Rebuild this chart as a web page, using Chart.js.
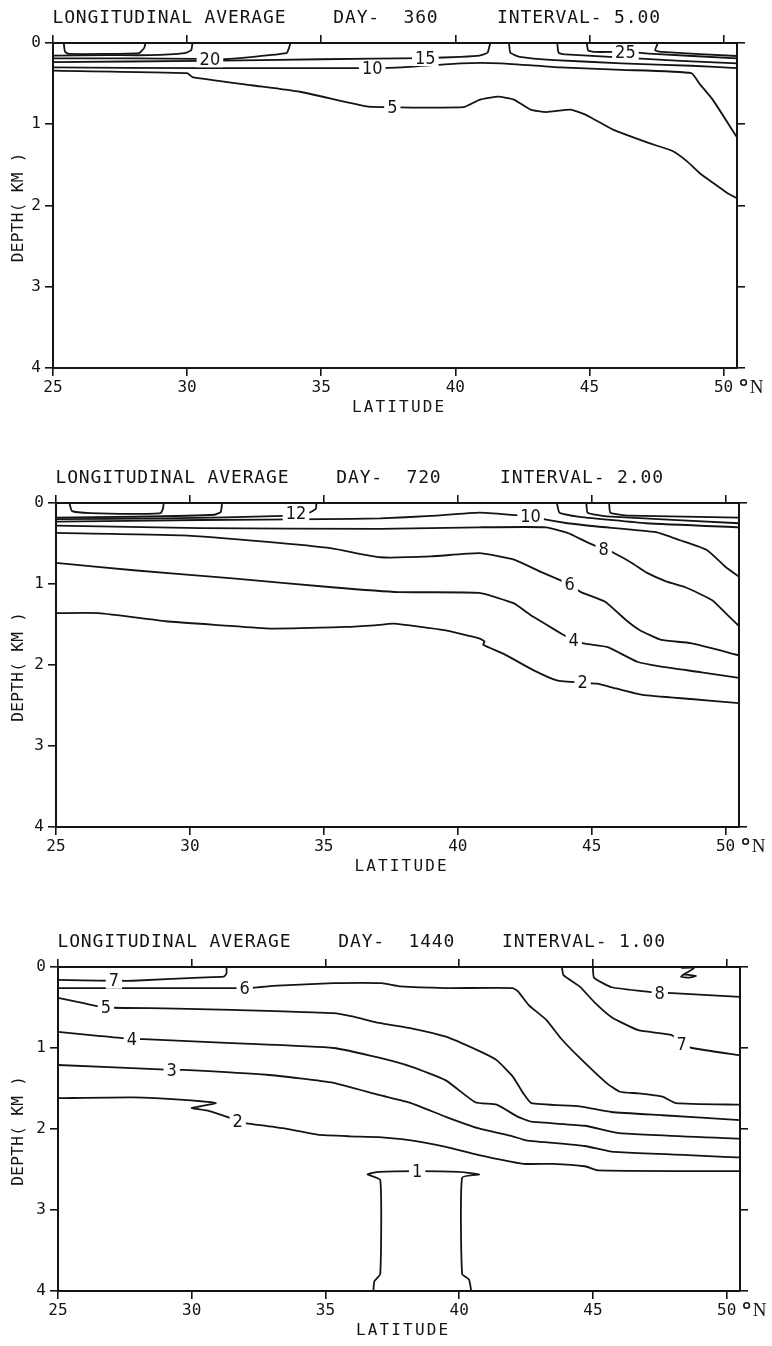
<!DOCTYPE html>
<html>
<head>
<meta charset="utf-8">
<script src="https://cdn.jsdelivr.net/npm/chart.js@4.4.1/dist/chart.umd.min.js"></script>
<style>
  body { margin: 0; background: #fff; width: 772px; height: 1346px; position: relative; overflow: hidden; }
  .panel { position: absolute; left: 0; width: 772px; }
  canvas { display: block; }
</style>
</head>
<body>
<div class="panel" style="top:0"><canvas id="day360" width="772" height="430"></canvas></div>
<div class="panel" style="top:460px"><canvas id="day720" width="772" height="430"></canvas></div>
<div class="panel" style="top:924px"><canvas id="day1440" width="772" height="422"></canvas></div>
<script>
// axes: latitude (deg N) across, depth (km) down
const latTicks = [25, 30, 35, 40, 45, 50];
const depthTicks = [0, 1, 2, 3, 4];
const latMin = 25, latMax = 50.5;

// ---- day 360, interval 5 : contour polylines as [lat, depth] ----
const d360_30L = [[25.4,0],[25.45,0.11],[25.6,0.135],[28.2,0.125],[28.4,0.06],[28.45,0]];
const d360_25L = [[25,0.155],[27,0.15],[28.6,0.15],[29.9,0.125],[30.15,0.09],[30.2,0]];
const d360_20L = [[25,0.19],[28,0.19],[30.3,0.195],[31.4,0.2],[33.7,0.125],[33.8,0.06],[33.85,0]];
const d360_15L = [[25,0.235],[30.5,0.22],[35,0.2],[38.9,0.185],[40.2,0.17],[40.9,0.155],[41.2,0.12],[41.3,0]];
const d360_10 = [[25,0.3],[30.5,0.31],[35,0.31],[36.9,0.31],[38,0.3],[40.2,0.25],[41.7,0.25],[43.9,0.3],[46.2,0.33],[48.8,0.37],[49.1,0.5],[49.6,0.7],[50.4,1.11],[50.5,1.16]];
const d360_5 = [[25,0.34],[30,0.37],[30.2,0.42],[32.4,0.52],[34.2,0.6],[36.7,0.78],[37.65,0.79],[40.3,0.79],[40.9,0.7],[41.6,0.66],[42.2,0.7],[42.8,0.82],[43.4,0.85],[44.3,0.82],[44.9,0.89],[45.9,1.07],[47.2,1.23],[48.1,1.33],[48.65,1.46],[49.1,1.6],[49.6,1.72],[50.15,1.85],[50.5,1.91]];
const d360_15R = [[42.0,0],[42.05,0.12],[42.4,0.17],[43.7,0.21],[46.2,0.25],[48.8,0.28],[50.5,0.31]];
const d360_20R = [[43.8,0],[43.85,0.12],[44.1,0.14],[48.4,0.22],[50.5,0.25]];
const d360_25R = [[44.9,0],[44.95,0.09],[45.2,0.11],[46.34,0.11],[47.2,0.13],[50.5,0.19]];
const d360_30R = [[47.55,0],[47.45,0.09],[47.7,0.11],[50.5,0.16]];
const d360_labels = [[30.85,0.2,'20'],[38.88,0.185,'15'],[36.9,0.31,'10'],[37.65,0.79,'5'],[46.34,0.11,'25']];

// ---- day 720, interval 2 ----
const d720_16L = [[25.5,0],[25.6,0.1],[26.3,0.125],[27.8,0.135],[28.9,0.125],[29.0,0.06],[29.02,0]];
const d720_14L = [[25,0.18],[27.9,0.17],[30.9,0.145],[31.15,0.11],[31.2,0]];
const d720_12L = [[25,0.2],[29.1,0.19],[33.5,0.16],[33.96,0.13],[34.45,0.12],[34.7,0.07],[34.72,0]];
const d720_10 = [[25,0.23],[30.4,0.21],[35,0.2],[37.1,0.19],[39.0,0.16],[40.8,0.12],[42.2,0.15],[42.72,0.16],[43.2,0.2],[44.1,0.25],[45.2,0.29],[47.4,0.36],[48.3,0.46],[49.3,0.58],[50.0,0.79],[50.5,0.91]];
const d720_12R = [[43.7,0],[43.8,0.12],[44.55,0.17],[47.05,0.25],[50.5,0.3]];
const d720_14R = [[44.8,0],[44.85,0.12],[45.55,0.165],[50.5,0.25]];
const d720_16R = [[45.65,0],[45.7,0.12],[46.4,0.155],[50.5,0.18]];
const d720_8 = [[25,0.28],[30.4,0.31],[37.1,0.32],[40.8,0.3],[43.3,0.3],[44.1,0.37],[44.8,0.48],[45.45,0.57],[45.85,0.62],[46.5,0.74],[47.05,0.86],[47.8,0.97],[48.5,1.04],[49.5,1.2],[50.0,1.36],[50.5,1.52]];
const d720_6 = [[25,0.37],[29.7,0.4],[32.9,0.48],[35.3,0.56],[37.1,0.67],[39.0,0.66],[40.8,0.62],[42.1,0.7],[43.1,0.85],[43.8,0.95],[44.18,1.01],[44.6,1.1],[45.5,1.22],[46.3,1.45],[46.8,1.57],[47.6,1.69],[48.7,1.73],[50.5,1.88]];
const d720_4 = [[25,0.74],[27.9,0.83],[31.6,0.93],[35.3,1.04],[37.8,1.1],[40.8,1.11],[42.1,1.24],[42.7,1.38],[43.3,1.5],[43.9,1.62],[44.33,1.7],[44.8,1.74],[45.6,1.78],[46.7,1.96],[47.6,2.02],[49.1,2.09],[50.5,2.16]];
const d720_2 = [[25,1.36],[26.6,1.36],[29.1,1.46],[31.2,1.51],[33.0,1.55],[35.8,1.53],[36.9,1.51],[37.6,1.49],[39.5,1.57],[40.8,1.67],[41.0,1.71],[40.95,1.75],[41.7,1.86],[42.8,2.06],[43.7,2.19],[44.66,2.22],[45.2,2.23],[45.9,2.29],[46.9,2.37],[48.7,2.42],[50.5,2.47]];
const d720_labels = [[33.96,0.13,'12'],[42.72,0.16,'10'],[45.45,0.57,'8'],[44.18,1.01,'6'],[44.33,1.7,'4'],[44.66,2.22,'2']];

// ---- day 1440, interval 1 ----
const d1440_7L = [[25,0.16],[25.9,0.165],[27.09,0.17],[27.8,0.17],[30.3,0.13],[31.2,0.12],[31.3,0.08],[31.3,0]];
const d1440_7R = [[43.84,0],[43.9,0.1],[44.5,0.24],[45.1,0.45],[45.7,0.62],[46.7,0.78],[47.95,0.84],[48.32,0.95],[48.7,1.0],[50.5,1.09]];
const d1440_8 = [[45.0,0],[45.04,0.13],[45.7,0.25],[47.2,0.31],[47.5,0.32],[47.8,0.32],[50.5,0.37]];
const d1440_9 = [[48.3,0.01],[48.8,0.01],[48.4,0.09],[48.3,0.12],[48.6,0.13],[48.85,0.11],[48.4,0.09]];
const d1440_6 = [[25,0.26],[31.98,0.26],[33.2,0.23],[35.3,0.2],[37.1,0.2],[37.8,0.24],[39.5,0.26],[42.0,0.26],[42.2,0.3],[42.6,0.47],[43.25,0.65],[43.8,0.88],[44.5,1.12],[45.5,1.43],[46.0,1.54],[46.7,1.56],[47.6,1.6],[48.1,1.68],[50.5,1.7]];
const d1440_5 = [[25,0.38],[26.0,0.45],[26.79,0.5],[29,0.51],[31.5,0.53],[35.3,0.57],[36.0,0.61],[37.0,0.69],[38.25,0.76],[39.5,0.86],[40.7,1.03],[41.4,1.15],[42.0,1.35],[42.4,1.56],[42.7,1.68],[44.5,1.72],[45.7,1.79],[47.6,1.83],[50.5,1.89]];
const d1440_4 = [[25,0.8],[26.5,0.85],[27.76,0.89],[28.2,0.89],[31.5,0.94],[35.3,1.0],[37.0,1.12],[38.2,1.23],[39.5,1.4],[40.6,1.67],[41.4,1.7],[42.2,1.85],[42.7,1.91],[44.7,1.96],[46.0,2.05],[50.5,2.12]];
const d1440_3 = [[25,1.21],[29.25,1.27],[29.7,1.27],[32.8,1.33],[35.3,1.43],[37.0,1.58],[38.2,1.68],[39.5,1.85],[40.7,1.99],[42.0,2.09],[42.5,2.14],[44.7,2.21],[45.7,2.28],[50.5,2.35]];
const d1440_2 = [[25,1.62],[27.8,1.61],[29.7,1.64],[30.9,1.68],[30.0,1.74],[30.56,1.77],[31.4,1.86],[31.72,1.91],[32.05,1.93],[33.4,1.99],[34.7,2.07],[35.9,2.09],[37.0,2.1],[38.2,2.14],[39.5,2.22],[40.7,2.32],[42.4,2.43],[43.5,2.43],[44.7,2.46],[45.2,2.51],[50.5,2.52]];
const d1440_1 = [[36.79,4.0],[36.83,3.88],[37.05,3.79],[37.05,2.63],[36.57,2.56],[37.01,2.53],[38.43,2.52],[40.0,2.53],[40.75,2.56],[40.11,2.6],[40.11,3.79],[40.37,3.86],[40.45,4.0]];
const d1440_labels = [[27.09,0.17,'7'],[31.98,0.26,'6'],[26.79,0.5,'5'],[27.76,0.89,'4'],[29.25,1.27,'3'],[31.72,1.91,'2'],[38.43,2.52,'1'],[47.5,0.32,'8'],[48.32,0.95,'7']];

const INK = '#141414';
const MONO = 'DejaVu Sans Mono';

function spaced(ctx, str, x, y, pitch) {
  for (let i = 0; i < str.length; i++) {
    ctx.fillText(str[i], x + (i + 0.5) * pitch, y);
  }
}

// titles, axis names, "°N" and contour values
const textPlugin = {
  id: 'plotText',
  afterDatasetsDraw(chart) {
    const ctx = chart.ctx;
    const sx = chart.scales.x, sy = chart.scales.y;
    ctx.save();
    ctx.fillStyle = INK;
    ctx.textAlign = 'center';
    ctx.textBaseline = 'middle';
    ctx.font = '18px "DejaVu Sans Condensed"';
    for (const [lat, dep, txt] of chart.options.contourLabels) {
      const px = sx.getPixelForValue(lat), py = sy.getPixelForValue(dep);
      const w = ctx.measureText(txt).width;
      ctx.fillStyle = '#fff';
      ctx.fillRect(px - w / 2 - 3, py - 8, w + 6, 16);
      ctx.fillStyle = INK;
      ctx.fillText(txt, px, py + 1);
    }
    ctx.restore();
  },
  afterDraw(chart) {
    const ctx = chart.ctx;
    const a = chart.chartArea;
    const sx = chart.scales.x;
    ctx.save();
    ctx.fillStyle = INK;
    ctx.strokeStyle = INK;
    ctx.textAlign = 'center';
    ctx.textBaseline = 'middle';
    ctx.font = '18px "' + MONO + '"';
    spaced(ctx, chart.options.heading, a.left - 1, a.top - 25, 11.7);

    ctx.font = '16px "' + MONO + '"';
    spaced(ctx, 'LATITUDE', (a.left + a.right) / 2 + 3 - 4 * 11.8, a.bottom + 40, 11.8);

    // degree ring and N after the last latitude label
    const x50 = sx.getPixelForValue(50);
    ctx.lineWidth = 1.6;
    ctx.beginPath();
    ctx.arc(x50 + 20, a.bottom + 14.5, 2.8, 0, Math.PI * 2);
    ctx.stroke();
    ctx.font = '19px "Liberation Serif"';
    ctx.fillText('N', x50 + 33, a.bottom + 20);

    ctx.translate(19, (a.top + a.bottom) / 2 + 2);
    ctx.rotate(-Math.PI / 2);
    ctx.font = '16px "' + MONO + '"';
    const depthTitle = 'DEPTH( KM )';
    spaced(ctx, depthTitle, -depthTitle.length * 10 / 2, 0, 10);
    ctx.restore();
  }
};

function tickAxis(position, values, extra) {
  return Object.assign({
    type: 'linear',
    position: position,
    afterBuildTicks: (scale) => { scale.ticks = values.map(v => ({ value: v })); },
    grid: { drawOnChartArea: false, drawTicks: true, tickLength: 8, color: INK, lineWidth: 1.6 },
    border: { display: true, color: INK, width: 2 }
  }, extra);
}

function drawPanel(id, heading, contours, labels, geom) {
  const ctx = document.getElementById(id).getContext('2d');
  const labelFont = { family: MONO, size: 16 };
  return new Chart(ctx, {
    type: 'scatter',
    data: {
      datasets: contours.map(line => ({
        data: line.map(p => ({ x: p[0], y: p[1] })),
        showLine: true,
        pointRadius: 0,
        borderColor: INK,
        borderWidth: 1.8,
        tension: 0.15,
        fill: false
      }))
    },
    options: {
      responsive: false,
      animation: false,
      devicePixelRatio: 1,
      heading: heading,
      contourLabels: labels,
      layout: { padding: { left: 0, right: geom.right, top: 35, bottom: 0 } },
      plugins: { legend: { display: false }, tooltip: { enabled: false } },
      scales: {
        x: tickAxis('bottom', latTicks, {
          min: latMin, max: latMax,
          ticks: { font: labelFont, color: INK, padding: 2, maxRotation: 0, autoSkip: false },
          afterFit: (s) => { s.height = geom.bottom; }
        }),
        xTop: tickAxis('top', latTicks, {
          min: latMin, max: latMax,
          ticks: { display: false },
          afterFit: (s) => { s.height = 8; }
        }),
        y: tickAxis('left', depthTicks, {
          min: 0, max: 4, reverse: true,
          ticks: { font: labelFont, color: INK, padding: 4 },
          afterFit: (s) => { s.width = geom.left; }
        }),
        yRight: tickAxis('right', geom.rightTicks, {
          min: 0, max: 4, reverse: true,
          ticks: { display: false },
          afterFit: (s) => { s.width = 8; }
        })
      }
    },
    plugins: [textPlugin]
  });
}

drawPanel('day360', 'LONGITUDINAL AVERAGE    DAY-  360     INTERVAL- 5.00',
  [d360_30L, d360_25L, d360_20L, d360_15L, d360_10, d360_5, d360_15R, d360_20R, d360_25R, d360_30R],
  d360_labels, { left: 53, right: 27, bottom: 62, rightTicks: depthTicks });

drawPanel('day720', 'LONGITUDINAL AVERAGE    DAY-  720     INTERVAL- 2.00',
  [d720_16L, d720_14L, d720_12L, d720_10, d720_12R, d720_14R, d720_16R, d720_8, d720_6, d720_4, d720_2],
  d720_labels, { left: 56, right: 25, bottom: 63, rightTicks: [0, 4] });

drawPanel('day1440', 'LONGITUDINAL AVERAGE    DAY-  1440    INTERVAL- 1.00',
  [d1440_7L, d1440_7R, d1440_8, d1440_9, d1440_6, d1440_5, d1440_4, d1440_3, d1440_2, d1440_1],
  d1440_labels, { left: 58, right: 24, bottom: 55, rightTicks: depthTicks });
</script>
</body>
</html>
